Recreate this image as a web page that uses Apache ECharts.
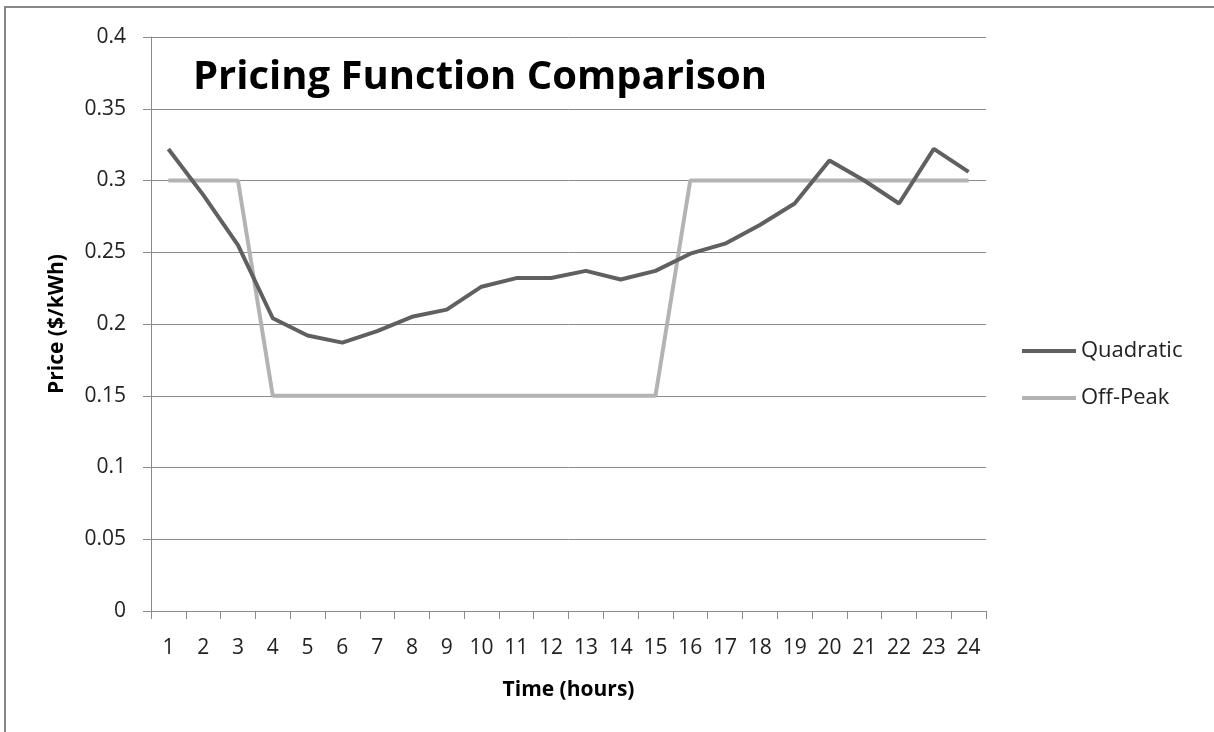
<!DOCTYPE html>
<html>
<head>
<meta charset="utf-8">
<script src="https://cdn.jsdelivr.net/npm/echarts@6/dist/echarts.min.js"></script>
<style>
  html, body { margin: 0; padding: 0; background: #fff; }
  #chart { width: 1214px; height: 732px; }
</style>
</head>
<body>
<div id="chart"></div>
<script>
// Hourly prices for the two pricing schemes
const hours = ['1','2','3','4','5','6','7','8','9','10','11','12','13','14','15','16','17','18','19','20','21','22','23','24'];
const quadratic = [0.322, 0.290, 0.255, 0.204, 0.192, 0.187, 0.195, 0.205, 0.210, 0.226, 0.232, 0.232, 0.237, 0.231, 0.237, 0.249, 0.256, 0.269, 0.284, 0.314, 0.300, 0.284, 0.322, 0.306];
const offPeak = [0.30, 0.30, 0.30, 0.15, 0.15, 0.15, 0.15, 0.15, 0.15, 0.15, 0.15, 0.15, 0.15, 0.15, 0.15, 0.30, 0.30, 0.30, 0.30, 0.30, 0.30, 0.30, 0.30, 0.30];

const FONT = '"Open Sans", Lato, sans-serif';
const chart = echarts.init(document.getElementById('chart'));

chart.setOption({
  animation: false,
  backgroundColor: '#ffffff',
  graphic: [{
    type: 'rect',
    shape: { x: 5, y: 7, width: 1400, height: 900 },
    style: { fill: 'none', stroke: '#878787', lineWidth: 2 },
    silent: true
  }],
  title: {
    text: 'Pricing Function Comparison',
    left: 193,
    top: 58,
    padding: 0,
    textStyle: { fontFamily: FONT, fontSize: 40, fontWeight: 'bold', color: '#000' }
  },
  legend: {
    orient: 'vertical',
    left: 1022,
    top: 339,
    padding: 0,
    itemWidth: 54,
    itemHeight: 4,
    itemGap: 23,
    icon: 'rect',
    textStyle: { fontFamily: FONT, fontSize: 22, color: '#222', lineHeight: 24 },
    data: ['Quadratic', 'Off-Peak']
  },
  grid: { left: 151, right: 228, top: 37, bottom: 121, containLabel: false },
  xAxis: {
    type: 'category',
    data: hours,
    boundaryGap: true,
    name: 'Time (hours)',
    nameLocation: 'middle',
    nameGap: 69,
    nameTextStyle: { fontFamily: FONT, fontSize: 21, fontWeight: 'bold', color: '#000' },
    axisLine: { lineStyle: { color: '#8a8a8a', width: 1 } },
    axisTick: { show: true, length: 8, alignWithLabel: false, lineStyle: { color: '#8a8a8a' } },
    axisLabel: { fontFamily: FONT, fontSize: 21, color: '#222', margin: 27, interval: 0 },
    splitLine: { show: false }
  },
  yAxis: {
    type: 'value',
    min: 0,
    max: 0.4,
    interval: 0.05,
    name: 'Price ($/kWh)',
    nameLocation: 'middle',
    nameGap: 83,
    nameRotate: 90,
    nameTextStyle: { fontFamily: FONT, fontSize: 21, fontWeight: 'bold', color: '#000' },
    axisLine: { show: true, lineStyle: { color: '#8a8a8a', width: 1 } },
    axisTick: { show: true, length: 8, lineStyle: { color: '#8a8a8a' } },
    axisLabel: {
      fontFamily: FONT, fontSize: 21, color: '#222', margin: 25,
      formatter: v => String(parseFloat(v.toFixed(2)))
    },
    splitLine: { show: true, lineStyle: { color: '#8a8a8a', width: 1 } }
  },
  series: [
    {
      name: 'Quadratic',
      type: 'line',
      data: quadratic,
      symbol: 'none',
      lineStyle: { color: '#606060', width: 4 },
      itemStyle: { color: '#606060' },
      z: 3
    },
    {
      name: 'Off-Peak',
      type: 'line',
      data: offPeak,
      symbol: 'none',
      lineStyle: { color: '#b3b3b3', width: 4 },
      itemStyle: { color: '#b3b3b3' },
      z: 2
    }
  ]
});
</script>
</body>
</html>
